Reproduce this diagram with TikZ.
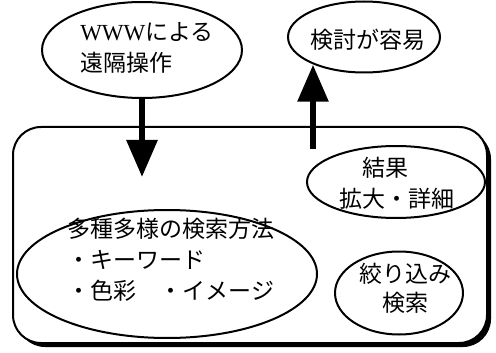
\documentclass[tikz,border=0pt]{standalone}
\usepackage{fontspec}
\setmainfont{Noto Sans CJK JP}
\newfontfamily\latinserif{Liberation Serif}
\usetikzlibrary{shapes.geometric,arrows.meta}
\tikzset{
  oval/.style={ellipse, draw=black, line width=2pt, inner sep=0pt, fill=white},
  txt/.style={inner sep=0pt, font=\fontsize{23}{31}\selectfont},
  bigarrow/.style={line width=6pt, -{Triangle[width=30pt,length=37pt]}},
  frame/.style={line width=2pt, rounded corners=28pt},
}
\begin{document}
\begin{tikzpicture}[x=1pt,y=-1pt]
\useasboundingbox (0,0) rectangle (496,353);
% frame with drop shadow
\fill[rounded corners=28pt] (17,131) rectangle (491,347);
\draw[frame, fill=white] (13,127) rectangle (487,343);
% ellipses
\node[oval, minimum width=200pt, minimum height=96pt] (www) at (142,50) {};
\node[oval, minimum width=152pt, minimum height=71pt] (kentou) at (364,37) {};
\node[oval, minimum width=178pt, minimum height=72pt] (kekka) at (396,182) {};
\node[oval, minimum width=300pt, minimum height=128pt] (tashu) at (167,274) {};
\node[oval, minimum width=128pt, minimum height=83pt] (shibori) at (399,293) {};
% texts
\node[txt, align=left] (wwwt) at (147,48) {{\latinserif WWW}による\\遠隔操作};
\node[txt] (kentout) at (368,40) {検討が容易};
\node[txt, align=left] (kekkat) at (397,183) {\hspace*{1em}結果\\拡大・詳細};
\node[txt, align=left] (tashut) at (171,260) {多種多様の検索方法\\・キーワード\\・色彩　・イメージ};
\node[txt, align=center, font=\fontsize{23}{29}\selectfont] (shiborit) at (405,288) {絞り込み\\検索};
% arrows
\coordinate (downtip) at (142,177);
\coordinate (upstart) at (313,149);
\draw[bigarrow] (www.south) -- (downtip);
\draw[bigarrow] (upstart) -- (upstart |- kentou.209);
\end{tikzpicture}
\end{document}
